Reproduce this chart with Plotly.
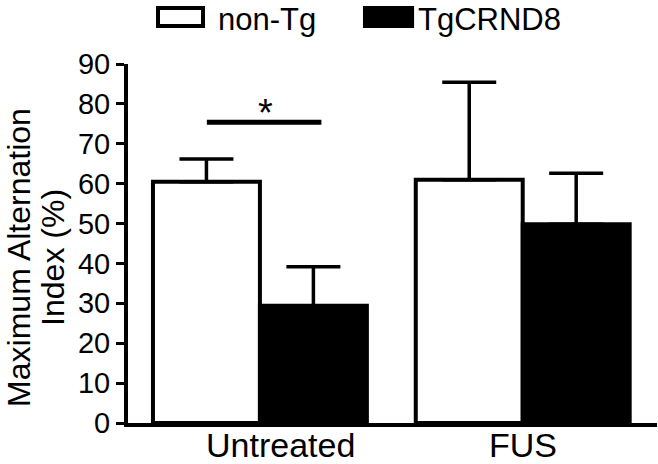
import plotly.graph_objects as go

groups = ['Untreated', 'FUS']
non_tg = [60.5, 61.0]
non_tg_err = [5.7, 24.4]
tg = [29.4, 49.8]
tg_err = [9.8, 12.8]

series_names = ['non-Tg', 'TgCRND8']
y_title_lines = ['Maximum Alternation', 'Index (%)']
FONT = "Liberation Sans, Arial, Helvetica, sans-serif"

fig = go.Figure()

fig.add_trace(go.Bar(x=groups, y=non_tg, name=series_names[0],
                     marker=dict(color='white', line=dict(color='black', width=4)),
                     error_y=dict(type='data', array=non_tg_err, arrayminus=[0, 0],
                                  symmetric=False, color='black', thickness=3.5, width=27)))
fig.add_trace(go.Bar(x=groups, y=tg, name=series_names[1],
                     marker=dict(color='black', line=dict(color='black', width=4)),
                     error_y=dict(type='data', array=tg_err, arrayminus=[0, 0],
                                  symmetric=False, color='black', thickness=3.5, width=27)))

# significance bar over Untreated
fig.add_shape(type='line', xref='x', yref='y', x0=-0.202, x1=0.234, y0=75.4, y1=75.4,
              line=dict(color='black', width=5))
fig.add_annotation(x=0.023, y=77.8, xref='x', yref='y', text='*', showarrow=False,
                   font=dict(size=38, family=FONT, color='black'))

# category labels
label_shift = [21, 0]
for g, s in zip(groups, label_shift):
    fig.add_annotation(x=g, y=0, xref='x', yref='paper', text=g, showarrow=False,
                       yanchor='top', yshift=-1, xshift=s,
                       font=dict(size=34, family=FONT, color='black'))

# y title, one annotation per line so the line spacing can be set
for line, xp in zip(y_title_lines, [-0.206, -0.1417]):
    fig.add_annotation(x=xp, y=0.46, xref='paper', yref='paper', text=line, textangle=-90,
                       showarrow=False, xanchor='center', yanchor='middle',
                       font=dict(size=32, family=FONT, color='black'))

# legend drawn by hand (boxes + text)
legend_boxes = [(0.0567, 0.1418, 'white'), (0.448, 0.537, 'black')]
legend_text_x = [0.166, 0.545]
for (x0, x1, col), tx, nm in zip(legend_boxes, legend_text_x, series_names):
    fig.add_shape(type='rect', xref='paper', yref='paper', x0=x0, x1=x1, y0=1.1058, y1=1.156,
                  fillcolor=col, line=dict(color='black', width=4))
    fig.add_annotation(x=tx, y=1.124, xref='paper', yref='paper', text=nm, showarrow=False,
                       xanchor='left', yanchor='middle',
                       font=dict(size=31, family=FONT, color='black'))

fig.update_layout(
    width=658, height=464,
    margin=dict(l=128, r=1, t=64, b=41),
    paper_bgcolor='white', plot_bgcolor='white',
    barmode='group', bargap=0.186, bargroupgap=0,
    showlegend=False,
    font=dict(family=FONT, color='black', size=30),
)
fig.update_xaxes(range=[-0.502, 1.511], showline=True, linecolor='black', linewidth=4,
                 showticklabels=False, ticks='', showgrid=False, zeroline=False)
fig.update_yaxes(range=[0, 90], tickvals=list(range(0, 91, 10)), showline=True,
                 linecolor='black', linewidth=4, ticks='outside', ticklen=8, tickwidth=3,
                 tickcolor='black', tickfont=dict(size=29, family=FONT, color='black'),
                 showgrid=False, zeroline=False)

# page body has a default 8px margin; drop it so the figure sits at the window corner
fig.write_html("out.html", config={'displayModeBar': False},
               post_script="document.body.style.margin='0';")
